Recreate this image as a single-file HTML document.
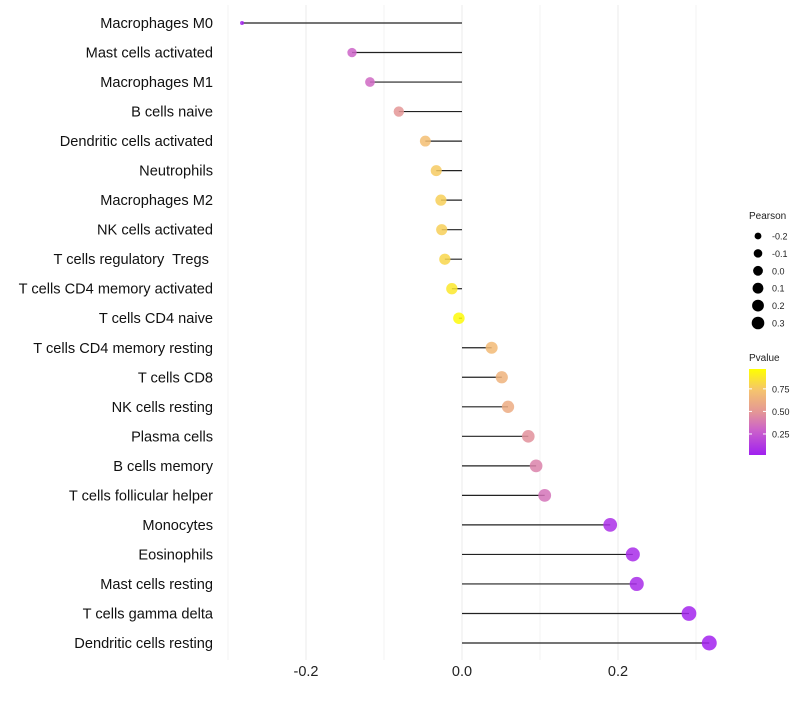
<!DOCTYPE html>
<html><head><meta charset="utf-8"><style>
body{margin:0;background:#fff;font-family:"Liberation Sans",sans-serif}
text{white-space:pre}
</style></head><body>
<svg id="chart" width="800" height="700" xmlns="http://www.w3.org/2000/svg"></svg>
<script>
const categories=["Macrophages M0","Mast cells activated","Macrophages M1","B cells naive","Dendritic cells activated","Neutrophils","Macrophages M2","NK cells activated","T cells regulatory  Tregs ","T cells CD4 memory activated","T cells CD4 naive","T cells CD4 memory resting","T cells CD8","NK cells resting","Plasma cells","B cells memory","T cells follicular helper","Monocytes","Eosinophils","Mast cells resting","T cells gamma delta","Dendritic cells resting"];
const pearson=[-0.282,-0.141,-0.118,-0.081,-0.047,-0.033,-0.027,-0.026,-0.022,-0.013,-0.004,0.038,0.051,0.059,0.085,0.095,0.106,0.19,0.219,0.224,0.291,0.317];
const pvalue=[0.02,0.3,0.32,0.5,0.72,0.78,0.8,0.8,0.83,0.9,0.98,0.7,0.66,0.62,0.48,0.42,0.36,0.07,0.05,0.05,0.02,0.01];
const xTicks=[-0.2,0,0.2];
const xTickLabels=["-0.2","0.0","0.2"];
const sizeLegend=[-0.2,-0.1,0,0.1,0.2,0.3];
const pLegend=[0.75,0.5,0.25];

const svg=document.getElementById('chart');
const NS="http://www.w3.org/2000/svg";
function mk(t,a,p){const e=document.createElementNS(NS,t);for(const k in a)e.setAttribute(k,a[k]);(p||svg).appendChild(e);return e;}
const x=v=>462+v*780;
const y=i=>23+i*(620/21);
const pmin=Math.min(...pearson),pmax=Math.max(...pearson);
const r=v=>{const t=Math.max(0,(v-pmin)/(pmax-pmin));return 2+5.5*Math.sqrt(t);};
const stops=[[0,[160,32,240]],[0.3,[205,100,200]],[0.5,[228,150,150]],[0.75,[245,195,110]],[1,[255,255,0]]];
function col(p){for(let i=1;i<stops.length;i++){if(p<=stops[i][0]){const a=stops[i-1],b=stops[i],t=(p-a[0])/(b[0]-a[0]);return 'rgb('+a[1].map((c,k)=>Math.round(c+(b[1][k]-c)*t)).join(',')+')';}}return 'rgb(255,255,0)';}

for(let k=-3;k<=3;k++){const v=k/10;const g=mk('line',{x1:x(v),x2:x(v),y1:5,y2:660,stroke:k%2===0?'#ebebeb':'#f3f3f3','stroke-width':1});

}
xTicks.forEach((v,i)=>{const t=mk('text',{x:x(v),y:676,'text-anchor':'middle','font-size':14.5,fill:'#222'});t.textContent=xTickLabels[i];

});
categories.forEach((c,i)=>{
const t=mk('text',{x:213,y:y(i)+5,'text-anchor':'end','font-size':14.6,fill:'#111'});t.textContent=c;


const l=mk('line',{x1:x(0),x2:x(pearson[i]),y1:y(i),y2:y(i),stroke:'#222','stroke-width':1.2});


const d=mk('circle',{cx:x(pearson[i]),cy:y(i),r:r(pearson[i]),fill:col(pvalue[i]),'fill-opacity':0.85});


});
let t=mk('text',{x:749,y:219,'font-size':10,fill:'#222'});t.textContent='Pearson';


sizeLegend.forEach((v,i)=>{const cy=236+i*17.4;
const c=mk('circle',{cx:758,cy:cy,r:r(v)*0.85,fill:'#000'});


const tt=mk('text',{x:772,y:cy+3.5,'font-size':9,fill:'#222'});tt.textContent=v.toFixed(1);

});
t=mk('text',{x:749,y:361,'font-size':10,fill:'#222'});t.textContent='Pvalue';


const defs=mk('defs',{});const lg=mk('linearGradient',{id:'pg',x1:0,y1:1,x2:0,y2:0},defs);
stops.forEach(s=>mk('stop',{offset:s[0],'stop-color':'rgb('+s[1].join(',')+')'},lg));
const bar=mk('rect',{x:749,y:369,width:17,height:86,fill:'url(#pg)'});


pLegend.forEach(v=>{const cy=455-(v-0.017)/0.953*86;
mk('line',{x1:749,x2:752,y1:cy,y2:cy,stroke:'#fff'});mk('line',{x1:763,x2:766,y1:cy,y2:cy,stroke:'#fff'});
const tt=mk('text',{x:772,y:cy+3.5,'font-size':9,fill:'#222'});tt.textContent=v.toFixed(2);

});
</script>
</body></html>
